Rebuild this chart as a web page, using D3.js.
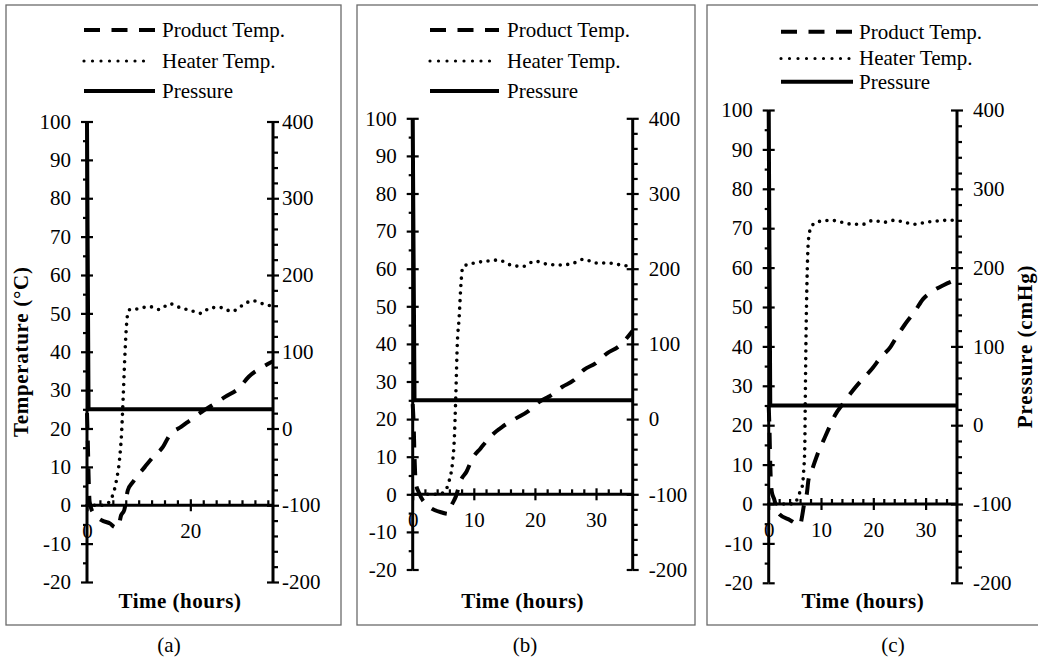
<!DOCTYPE html>
<html>
<head>
<meta charset="utf-8">
<script src="https://cdn.jsdelivr.net/npm/d3@7"></script>
<style>
  body { margin: 0; background: #fff; }
  svg text { font-family: "Liberation Serif", "Times New Roman", serif; fill: #000; }
</style>
</head>
<body>
<svg id="chart" width="1038" height="657"></svg>
<script>
// ---- tick labels / text
const tempTicks = [-20, -10, 0, 10, 20, 30, 40, 50, 60, 70, 80, 90, 100];
const pressTicks = [-200, -100, 0, 100, 200, 300, 400];
const timeTicksA = [0, 20];
const timeTicksBC = [0, 10, 20, 30];
const legendLabels = ["Product Temp.", "Heater Temp.", "Pressure"];
const captions = ["(a)", "(b)", "(c)"];

// ---- series (time in hours, temp in °C, pressure in cmHg)
const prodTimeA = [0, 0.15, 0.3, 0.5, 1, 2.8, 4.5, 5.4, 6.0, 6.6, 7.2, 7.9, 8.9, 11.2, 12.8, 14.7, 16, 18.2, 20.4, 22.7, 24.3, 26.8, 29.4, 31.3, 33.6, 36];
const prodTempA = [24, 17, 8, 1, -1.5, -3.9, -4.8, -5.7, -5.8, -2.6, -1.3, 3.9, 6.1, 10, 12.6, 15.2, 18.3, 20.4, 22.6, 24.8, 26.1, 28.3, 30.5, 33.5, 35.7, 37.5];
const heatTimeA = [0, 1, 2, 3, 4, 4.8, 5.7, 6.3, 6.7, 7.0, 7.3, 7.6, 7.9, 8.3, 10, 12, 14, 16, 18, 20, 22, 24, 26, 28, 30, 32, 34, 36];
const heatTempA = [0, 0, 0, 0, 0.5, 2, 6.5, 12, 19, 28, 38, 46, 50, 51, 51.2, 51.8, 51, 52.5, 51.5, 50.8, 50, 51.5, 51.5, 50.5, 52, 53.3, 52.5, 51.8];

const prodTimeB = [0, 0.15, 0.3, 0.5, 1.0, 2.7, 4.9, 5.8, 6.25, 7.06, 7.9, 8.8, 9.8, 11.1, 13, 14.7, 16.9, 18.8, 20.7, 22.3, 24.5, 26.4, 28, 29.9, 31.8, 33.7, 36];
const prodTempB = [24, 18.9, 10, 3, 0.5, -3.3, -4.9, -5.2, -3.3, -0.6, 3.8, 6, 9.6, 12.2, 15.8, 18, 20.2, 22, 24.6, 26, 28.6, 30.4, 33.1, 34.8, 37.5, 39.3, 43.5];
const heatTimeB = [0, 1, 2, 3, 4, 4.8, 5.4, 6, 6.5, 6.8, 7.05, 7.3, 7.6, 7.9, 8.2, 10, 12, 14, 16, 18, 20, 22, 24, 26, 28, 30, 32, 34, 36];
const heatTempB = [0, 0, 0, 0, 0, 0.3, 1.1, 3.8, 8.2, 14.4, 26, 40, 47, 56, 60.5, 61.5, 62, 62.3, 61, 60.6, 62, 61.2, 61, 61.3, 62.5, 61.5, 61.5, 61, 60.5];

const prodTimeC = [0, 0.15, 0.3, 0.6, 1.0, 1.9, 4.1, 6.0, 6.4, 6.8, 7.3, 7.6, 8.4, 9.4, 10.5, 11.5, 12.7, 14.3, 15.9, 17.8, 19.8, 21.3, 23.3, 24.5, 26, 28, 29.5, 31, 33.5, 36];
const prodTempC = [25, 19, 10, 3, 1.4, -2.4, -4.1, -5.3, -3, 0.2, 2.7, 6.1, 9.1, 12.9, 16.2, 19.2, 22.6, 25.6, 28.5, 31.5, 34.4, 37, 39.9, 42.5, 45.5, 49, 52, 53.7, 55.6, 57];
const heatTimeC = [0, 1, 2, 3, 4, 5.1, 5.7, 6.4, 6.7, 6.9, 7.0, 7.15, 7.3, 7.6, 8.2, 10, 12, 14, 16, 18, 20, 22, 24, 26, 28, 30, 32, 34, 36];
const heatTempC = [0, 0, 0, 0, 0, 0.3, 2.3, 4.4, 8.6, 14.5, 27.2, 44, 55.2, 67, 70.6, 71.8, 72, 71.5, 71, 71, 72, 71.5, 72, 71.5, 71, 71.5, 71.8, 72, 72];

const pressTime = [0, 0.3, 36];
const pressValue = [400, 25, 25];

// ---- layout of the three panels
const panels = [
  { box: [6, 5, 341, 625], x0: 87, x1: 273, yTop: 121.5, yBot: 582, xTicks: timeTicksA, xMinor: 2.5, rGap: 3,
    leg: [84, 155, 162], legY: [30, 61, 91], cap: 169,
    prod: [prodTimeA, prodTempA], heat: [heatTimeA, heatTempA] },
  { box: [357, 5, 695, 625], x0: 412.7, x1: 632.7, yTop: 118.3, yBot: 569.5, xTicks: timeTicksBC, xMinor: 2, rGap: 10,
    leg: [430, 499, 507], legY: [30, 61, 91], cap: 525,
    prod: [prodTimeB, prodTempB], heat: [heatTimeB, heatTempB] },
  { box: [707, 5, 1045, 625], x0: 768.7, x1: 957, yTop: 110, yBot: 582.8, xTicks: timeTicksBC, xMinor: 2, rGap: 10,
    leg: [781, 853, 859], legY: [31.7, 58.5, 81.7], cap: 893,
    prod: [prodTimeC, prodTempC], heat: [heatTimeC, heatTempC] }
];

const svg = d3.select("#chart");
const FS = 21;
const fmt = d => String(d); // plain hyphen minus like the original

const styles = [
  { dash: "16 11.5", w: 4, cap: "butt" },
  { dash: "0 7.5", w: 3.6, cap: "round" },
  { dash: null, w: 4, cap: "butt" }
];

function styleText(g) {
  g.attr("font-family", null).attr("font-size", null);
  g.selectAll("text").attr("font-size", FS);
}

panels.forEach((p, i) => {
  const g = svg.append("g");

  // panel frame
  g.append("rect")
    .attr("x", p.box[0]).attr("y", p.box[1])
    .attr("width", p.box[2] - p.box[0]).attr("height", p.box[3] - p.box[1])
    .attr("fill", "none").attr("stroke", "#6b6b6b").attr("stroke-width", 1.3);

  const x = d3.scaleLinear().domain([0, 36]).range([p.x0, p.x1]);
  const y = d3.scaleLinear().domain([-20, 100]).range([p.yBot, p.yTop]);
  const y2 = d3.scaleLinear().domain([-200, 400]).range([p.yBot, p.yTop]);

  const clipId = "clip" + i;
  svg.append("clipPath").attr("id", clipId).append("rect")
    .attr("x", p.x0 - 3).attr("y", p.yTop).attr("width", p.x1 - p.x0 + 6).attr("height", p.yBot - p.yTop);

  // left axis
  const minorTemp = d3.range(-20, 100.1, 5).filter(v => v % 10 !== 0);
  g.append("g").attr("transform", `translate(${p.x0},0)`)
    .call(d3.axisLeft(y).tickValues(minorTemp).tickSize(4).tickFormat(""))
    .call(a => a.select(".domain").remove());
  g.append("g").attr("transform", `translate(${p.x0},0)`)
    .call(d3.axisRight(y).tickValues(tempTicks).tickSize(6).tickFormat(""))
    .call(a => a.select(".domain").remove());
  g.append("g").attr("transform", `translate(${p.x0},0)`)
    .call(d3.axisLeft(y).tickValues(tempTicks).tickSize(6).tickPadding(10).tickFormat(fmt))
    .call(a => a.select(".domain").remove())
    .call(styleText);

  // right axis
  const minorPress = d3.range(-200, 400.1, 20).filter(v => v % 100 !== 0);
  g.append("g").attr("transform", `translate(${p.x1},0)`)
    .call(d3.axisRight(y2).tickValues(minorPress).tickSize(5).tickFormat(""))
    .call(a => a.select(".domain").remove());
  g.append("g").attr("transform", `translate(${p.x1},0)`)
    .call(d3.axisLeft(y2).tickValues(pressTicks).tickSize(6).tickFormat(""))
    .call(a => a.select(".domain").remove());
  g.append("g").attr("transform", `translate(${p.x1},0)`)
    .call(d3.axisRight(y2).tickValues(pressTicks).tickSize(6).tickPadding(p.rGap).tickFormat(fmt))
    .call(a => a.select(".domain").remove())
    .call(styleText);

  // time axis at temp = 0
  const minorTime = d3.range(0, 36.01, p.xMinor).filter(v => !p.xTicks.includes(v) && v > 0 && v < 36);
  g.append("g").attr("transform", `translate(0,${y(0)})`)
    .call(d3.axisTop(x).tickValues(minorTime).tickSize(5).tickFormat(""))
    .call(a => a.select(".domain").remove());
  g.append("g").attr("transform", `translate(0,${y(0)})`)
    .call(d3.axisTop(x).tickValues(p.xTicks).tickSize(6).tickFormat(""))
    .call(a => a.select(".domain").remove());
  g.append("g").attr("transform", `translate(0,${y(0)})`)
    .call(d3.axisBottom(x).tickValues(p.xTicks).tickSize(6).tickPadding(12).tickFormat(fmt))
    .call(a => a.select(".domain").remove())
    .call(styleText);

  g.selectAll(".tick line").attr("stroke", "#000").attr("stroke-width", 2.2);

  // axis lines
  g.append("line").attr("x1", p.x0).attr("x2", p.x1).attr("y1", y(0)).attr("y2", y(0))
    .attr("stroke", "#000").attr("stroke-width", 3);
  g.append("line").attr("x1", p.x0).attr("x2", p.x0).attr("y1", p.yTop).attr("y2", p.yBot)
    .attr("stroke", "#000").attr("stroke-width", 3);
  g.append("line").attr("x1", p.x1).attr("x2", p.x1).attr("y1", p.yTop).attr("y2", p.yBot)
    .attr("stroke", "#000").attr("stroke-width", 3);

  // series
  const plot = g.append("g").attr("clip-path", `url(#${clipId})`);
  const tempLine = d3.line().x(d => x(d[0])).y(d => y(d[1])).curve(d3.curveMonotoneX);
  const pressLine = d3.line().x(d => x(d[0])).y(d => y2(d[1]));

  const series = [
    { d: tempLine(d3.zip(p.prod[0], p.prod[1])), s: styles[0] },
    { d: tempLine(d3.zip(p.heat[0], p.heat[1])), s: styles[1] },
    { d: pressLine(d3.zip(pressTime, pressValue)), s: styles[2] }
  ];
  plot.selectAll("path.series").data(series).join("path")
    .attr("class", "series")
    .attr("d", d => d.d)
    .attr("fill", "none")
    .attr("stroke", "#000")
    .attr("stroke-width", d => d.s.w)
    .attr("stroke-linecap", d => d.s.cap)
    .attr("stroke-dasharray", d => d.s.dash);

  // legend
  legendLabels.forEach((lab, k) => {
    const s = styles[k];
    g.append("line")
      .attr("x1", p.leg[0]).attr("x2", k === 1 ? p.leg[1] - 3 : p.leg[1])
      .attr("y1", p.legY[k]).attr("y2", p.legY[k])
      .attr("stroke", "#000").attr("stroke-width", k === 1 ? 3.2 : s.w)
      .attr("stroke-linecap", s.cap)
      .attr("stroke-dasharray", k === 1 ? "0 8.5" : s.dash);
    g.append("text").attr("x", p.leg[2]).attr("y", p.legY[k]).attr("dy", "0.33em")
      .attr("font-size", FS).text(lab);
  });

  // time title
  g.append("text")
    .attr("x", (p.x0 + p.x1) / 2).attr("y", 608)
    .attr("text-anchor", "middle").attr("font-size", FS).attr("font-weight", "bold")
    .attr("letter-spacing", 0.5)
    .text("Time (hours)");

  // caption
  g.append("text").attr("x", p.cap).attr("y", 652)
    .attr("text-anchor", "middle").attr("font-size", FS).text(captions[i]);

  if (i === 0) {
    g.append("text")
      .attr("transform", `translate(28,${(p.yTop + p.yBot) / 2}) rotate(-90)`)
      .attr("text-anchor", "middle").attr("font-size", FS).attr("font-weight", "bold")
      .attr("letter-spacing", 0.7)
      .text("Temperature (°C)");
  }
  if (i === 2) {
    g.append("text")
      .attr("transform", `translate(1032,${(p.yTop + p.yBot) / 2}) rotate(-90)`)
      .attr("text-anchor", "middle").attr("font-size", FS).attr("font-weight", "bold")
      .attr("letter-spacing", 0.9)
      .text("Pressure (cmHg)");
  }
});
</script>
</body>
</html>
